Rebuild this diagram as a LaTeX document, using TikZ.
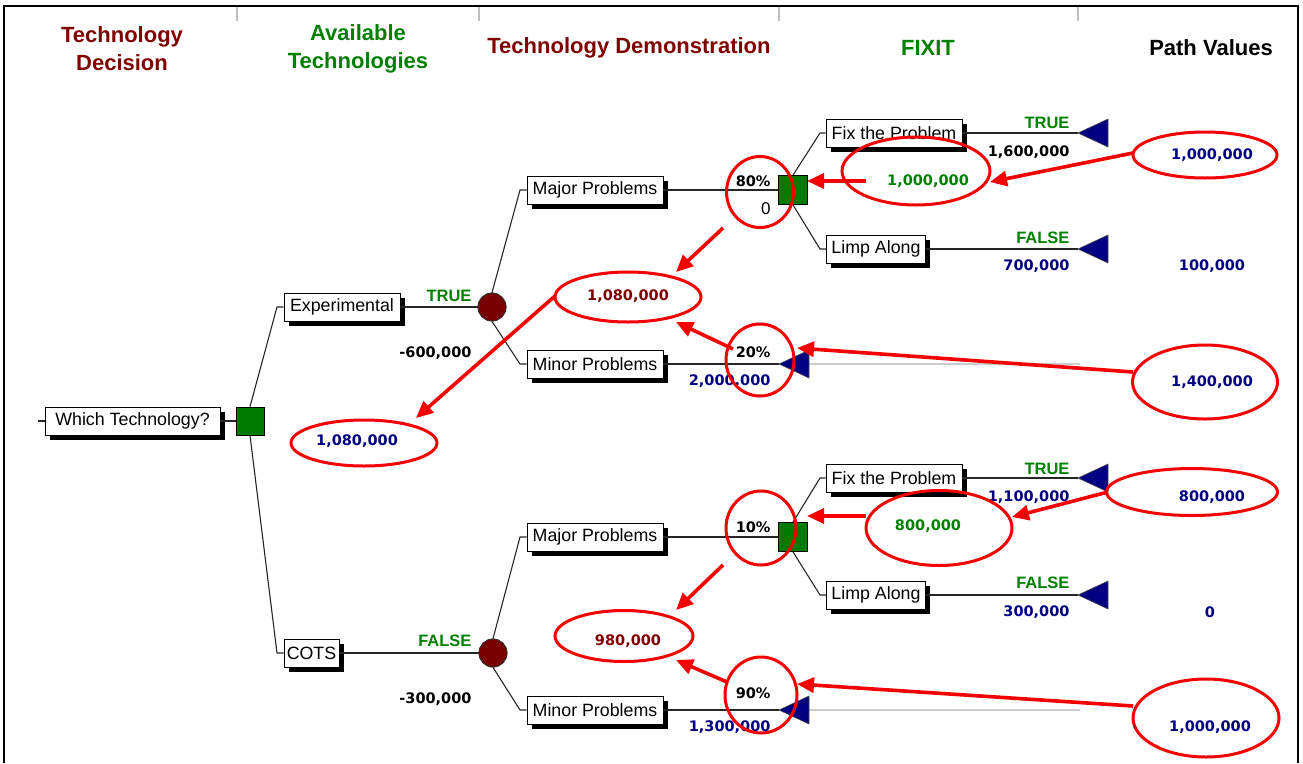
\documentclass[tikz,border=0pt]{standalone}
\usepackage{fontspec}
\setmainfont{Liberation Sans}
\newfontfamily\numfont{DejaVu Sans}
\usetikzlibrary{shapes.geometric,arrows.meta,shadows}

\definecolor{hdrred}{RGB}{128,0,0}
\definecolor{hdrgreen}{RGB}{0,128,0}
\definecolor{valnavy}{RGB}{0,0,128}
\definecolor{decgreen}{RGB}{0,122,0}
\definecolor{chancered}{RGB}{120,0,0}
\definecolor{markred}{RGB}{245,0,0}

\tikzset{
  hdr/.style={font=\bfseries\fontsize{22}{28}\selectfont, align=center},
  box/.style={draw=black, fill=white, line width=0.9pt, minimum height=28pt,
    inner sep=0pt, font=\fontsize{17.8}{20}\selectfont,
    general shadow={fill=black, shadow xshift=4.5pt, shadow yshift=-4.5pt}},
  decision/.style={draw=black, fill=decgreen, minimum size=28pt, inner sep=0pt, line width=0.8pt},
  chance/.style={circle, draw=black!80, fill=chancered, minimum size=28pt, inner sep=0pt, line width=0.8pt},
  branch/.style={draw=black!85, line width=1.1pt},
  tail/.style={draw=black!20, line width=1.3pt},
  endpt/.style={fill=valnavy, draw=black!70, line width=0.6pt},
  val/.style={font=\numfont\bfseries\fontsize{14.5}{16}\selectfont},
  flag/.style={font=\bfseries\fontsize{16.5}{18}\selectfont, text=hdrgreen, anchor=east},
  ring/.style={ellipse, draw=markred, line width=3pt, inner sep=0pt},
  callout/.style={draw=markred, line width=3.6pt, -{Triangle[length=17pt,width=15pt]}},
}

\begin{document}
\begin{tikzpicture}[x=1pt,y=-1pt]
\useasboundingbox (0,0) rectangle (1303,763);

% frame and column ticks
\draw[line width=2.5pt] (4,763) -- (4,6) -- (1298,6) -- (1298,763);
\foreach \cx in {237,479,779,1078}
  \draw[black!25, line width=1.3pt] (\cx,7) -- (\cx,21);

% column headers
\node[hdr, text=hdrred]   (h1) at (122,49) {Technology\\Decision};
\node[hdr, text=hdrgreen] (h2) at (358,49) {Available\\Technologies};
\node[hdr, text=hdrred]   (h3) at (629,48) {Technology Demonstration};
\node[hdr, text=hdrgreen] (h4) at (928,48) {FIXIT};
\node[hdr, text=black]    (h5) at (1211,48) {Path Values};

% terminal points and free ends
\coordinate (stub) at (38,421);
\coordinate (t1) at (1078,133);
\coordinate (t2) at (1078,249);
\coordinate (t3) at (779,364);
\coordinate (t4) at (1078,478);
\coordinate (t5) at (1078,595);
\coordinate (t6) at (779,710);
\coordinate (g3) at (1080,364);
\coordinate (g6) at (1080,710);

% gray continuation lines behind the minor-problem terminals
\draw[tail] (t3) -- (g3);
\draw[tail] (t6) -- (g6);

% nodes of the tree
\node[box, minimum width=175pt] (which) at (132.5,421) {Which Technology?};
\node[decision] (d0) at (250,421) {};
\node[box, minimum width=116pt] (exp) at (342,307) {Experimental};
\node[box, minimum width=55pt] (cots) at (311.5,653) {COTS};
\node[chance] (c1) at (492,307) {};
\node[chance] (c2) at (493,653) {};
\node[box, minimum width=136pt] (maj1) at (595,190) {Major Problems};
\node[box, minimum width=136pt] (min1) at (595,364) {Minor Problems};
\node[box, minimum width=136pt] (maj2) at (595,537) {Major Problems};
\node[box, minimum width=136pt] (min2) at (595,710) {Minor Problems};
\node[decision, minimum size=29pt] (d1) at (793,190) {};
\node[decision, minimum size=29pt] (d2) at (793,537) {};
\node[box, minimum width=136pt] (fix1) at (894,133) {Fix the Problem};
\node[box, minimum width=99pt] (limp1) at (876,249) {Limp Along};
\node[box, minimum width=136pt] (fix2) at (894,478) {Fix the Problem};
\node[box, minimum width=99pt] (limp2) at (876,595) {Limp Along};

% branches
\draw[branch] (stub) -- (which.west);
\draw[branch] (which.east) -- (d0.west);
\draw[branch] (d0.north) -- (277,307) -- (exp.west);
\draw[branch] (d0.south) -- (277,653) -- (cots.west);
\draw[branch] (exp.east) -- (c1.west);
\draw[branch] (cots.east) -- (c2.west);
\draw[branch] (c1.north) -- (520,190) -- (maj1.west);
\draw[branch] (c1.south) -- (520,364) -- (min1.west);
\draw[branch] (c2.north) -- (520,537) -- (maj2.west);
\draw[branch] (c2.south) -- (520,710) -- (min2.west);
\draw[branch] (maj1.east) -- (d1.west);
\draw[branch] (maj2.east) -- (d2.west);
\draw[branch] (min1.east) -- (t3);
\draw[branch] (min2.east) -- (t6);
\draw[branch] (d1.north) -- (820,133) -- (fix1.west);
\draw[branch] (d1.south) -- (820,249) -- (limp1.west);
\draw[branch] (d2.north) -- (820,478) -- (fix2.west);
\draw[branch] (d2.south) -- (820,595) -- (limp2.west);
\draw[branch] (fix1.east) -- (t1);
\draw[branch] (limp1.east) -- (t2);
\draw[branch] (fix2.east) -- (t4);
\draw[branch] (limp2.east) -- (t5);

% redraw node bodies over the branch ends
\node[decision] at (d0) {};
\node[chance] at (c1) {};
\node[chance] at (c2) {};
\node[decision, minimum size=29pt] at (d1) {};
\node[decision, minimum size=29pt] at (d2) {};

% terminal triangles
\foreach \t in {t1,t2,t3,t4,t5,t6}
  \filldraw[endpt] (\t) -- ++(30,-14) -- ++(0,28) -- cycle;

% branch labels
\node[flag] (f1) at (475,296) {TRUE};
\node[val, anchor=east] (v1) at (475,353) {-600,000};
\node[flag] (f2) at (475,641) {FALSE};
\node[val, anchor=east] (v2) at (475,699) {-300,000};

\node[val, anchor=east] (p1) at (774,181) {80\%};
\node[anchor=east, font=\fontsize{17}{19}\selectfont] (z1) at (774,209) {0};
\node[val, anchor=east] (p2) at (774,352) {20\%};
\node[val, anchor=east, text=valnavy] (m1) at (774,381) {2,000,000};
\node[val, anchor=east] (p3) at (774,527) {10\%};
\node[val, anchor=east] (p4) at (774,693) {90\%};
\node[val, anchor=east, text=valnavy] (m2) at (774,727) {1,300,000};

\node[flag] (f3) at (1073,123) {TRUE};
\node[val, anchor=east] (e1) at (1073,152) {1,600,000};
\node[flag] (f4) at (1073,238) {FALSE};
\node[val, anchor=east, text=valnavy] (e2) at (1073,266) {700,000};
\node[flag] (f5) at (1073,469) {TRUE};
\node[val, anchor=east, text=valnavy] (e3) at (1073,497) {1,100,000};
\node[flag] (f6) at (1073,583) {FALSE};
\node[val, anchor=east, text=valnavy] (e4) at (1073,612) {300,000};

% path values
\node[val, text=valnavy] (pv1) at (1212,155) {1,000,000};
\node[val, text=valnavy] (pv2) at (1212,266) {100,000};
\node[val, text=valnavy] (pv3) at (1212,382) {1,400,000};
\node[val, text=valnavy] (pv4) at (1212,497) {800,000};
\node[val, text=valnavy] (pv5) at (1210,612) {0};
\node[val, text=valnavy] (pv6) at (1210,727) {1,000,000};

% rolled-back values
\node[val, text=hdrgreen] (r1) at (928,181) {1,000,000};
\node[val, text=hdrgreen] (r2) at (928,526) {800,000};
\node[val, text=hdrred] (r3) at (628,296) {1,080,000};
\node[val, text=hdrred] (r4) at (628,641) {980,000};
\node[val, text=valnavy] (r5) at (357,441) {1,080,000};

% red rings
\node[ring, minimum width=144pt, minimum height=46pt] (E1) at (1205,155) {};
\node[ring, minimum width=148pt, minimum height=68pt] (E2) at (916,171) {};
\node[ring, minimum width=67pt, minimum height=71pt] (E3) at (760,192) {};
\node[ring, minimum width=146pt, minimum height=50pt] (E4) at (628,297) {};
\node[ring, minimum width=68pt, minimum height=72pt] (E5) at (760,360) {};
\node[ring, minimum width=145pt, minimum height=74pt] (E6) at (1205,382) {};
\node[ring, minimum width=146pt, minimum height=46pt] (E7) at (364,443) {};
\node[ring, minimum width=171pt, minimum height=47pt] (E8) at (1192,492) {};
\node[ring, minimum width=146pt, minimum height=75pt] (E9) at (939,528) {};
\node[ring, minimum width=70pt, minimum height=74pt] (E10) at (761,528) {};
\node[ring, minimum width=138pt, minimum height=51pt] (E11) at (624,636) {};
\node[ring, minimum width=72pt, minimum height=76pt] (E12) at (761,695) {};
\node[ring, minimum width=146pt, minimum height=78pt] (E13) at (1206,718) {};

% callout arrow ends
\coordinate (a1s) at (1133,153);  \coordinate (a1e) at (990,182);
\coordinate (a2s) at (866,181);   \coordinate (a2e) at (807,181);
\coordinate (a3s) at (723,228);   \coordinate (a3e) at (676,272);
\coordinate (a4s) at (555,296);   \coordinate (a4e) at (416,418);
\coordinate (a5s) at (733,349);   \coordinate (a5e) at (676,322);
\coordinate (a6s) at (1133,372);  \coordinate (a6e) at (797,348);
\coordinate (a7s) at (1108,492);  \coordinate (a7e) at (1012,517);
\coordinate (a8s) at (866,516);   \coordinate (a8e) at (807,516);
\coordinate (a9s) at (723,565);   \coordinate (a9e) at (676,610);
\coordinate (a10s) at (727,682);  \coordinate (a10e) at (676,660);
\coordinate (a11s) at (1133,706); \coordinate (a11e) at (797,684);

\foreach \k in {1,...,11}
  \draw[callout] (a\k s) -- (a\k e);
\end{tikzpicture}
\end{document}
